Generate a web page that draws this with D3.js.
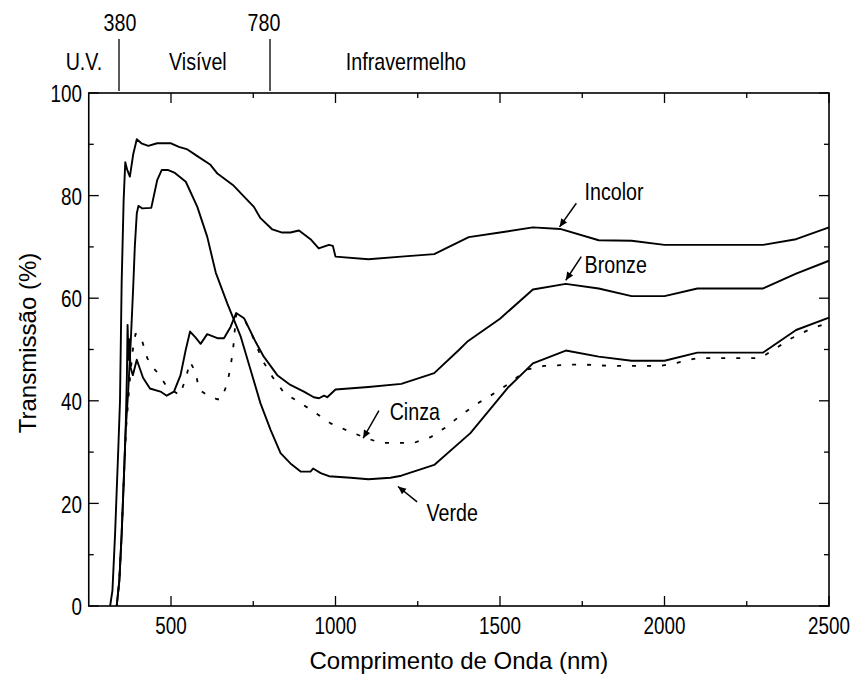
<!DOCTYPE html>
<html><head><meta charset="utf-8">
<script src="https://cdn.jsdelivr.net/npm/d3@7"></script>
<style>
html,body{margin:0;padding:0;background:#fff;}
svg{display:block;}
text{font-family:"Liberation Sans",Arial,sans-serif;fill:#000;}
</style></head>
<body>
<svg id="chart" width="855" height="680"></svg>
<script>
// ---- data (wavelength nm, transmission %) ----
const incolor = [[315,0],[322,3],[330,14],[340,31],[345,40],[350,63],[356,79],[361,86.5],[367,85],[375,83.7],[385,88],[396,91],[410,90.2],[431,89.7],[458,90.2],[500,90.2],[524,89.5],[550,89],[580,87.7],[620,86],[641,84.3],[691,81.9],[722,79.8],[752,77.8],[772,75.6],[808,73.4],[838,72.8],[863,72.8],[889,73.2],[924,71.5],[949,69.7],[980,70.4],[992,70.2],[1000,68.1],[1100,67.6],[1200,68.1],[1300,68.6],[1405,71.9],[1500,72.8],[1600,73.8],[1683,73.5],[1800,71.3],[1900,71.2],[2000,70.4],[2100,70.4],[2300,70.4],[2400,71.5],[2500,73.8]];
const verde = [[335,0],[343,5],[350,14],[358,27],[362,34],[370,42],[378,52],[385,62],[390,70],[396,76.5],[401,78],[413,77.5],[440,77.6],[458,83],[472,85],[490,85],[510,84.5],[545,82.7],[580,77.8],[610,72],[636,65],[671,59],[712,52.5],[742,46],[772,39.5],[803,34.3],[833,29.8],[863,27.8],[894,26.2],[924,26.2],[932,26.8],[955,25.9],[980,25.3],[1046,25],[1100,24.7],[1167,25],[1200,25.4],[1300,27.5],[1410,33.7],[1526,42.7],[1600,47.3],[1700,49.8],[1800,48.6],[1900,47.8],[2000,47.8],[2100,49.4],[2300,49.4],[2400,53.8],[2500,56.2]];
const bronze = [[335,0],[343,5],[350,14],[358,27],[362,34],[366,45],[368,54.8],[371,48],[373,52],[377,46.5],[384,45],[396,48],[415,44.5],[436,42.4],[468,41.8],[487,41],[509,41.8],[529,45],[545,50],[558,53.5],[575,52.3],[590,51.1],[610,53],[641,52.2],[661,52.2],[681,54.4],[698,57.1],[722,56.1],[757,51.5],[782,48.6],[823,45],[863,43.1],[904,41.8],[934,40.7],[950,40.5],[965,41],[975,40.7],[1000,42.2],[1100,42.7],[1200,43.3],[1300,45.4],[1375,49.9],[1400,51.5],[1500,56],[1600,61.7],[1700,62.8],[1800,61.9],[1900,60.4],[2000,60.4],[2100,61.9],[2300,61.9],[2400,64.8],[2500,67.3]];
const cinza = [[335,0],[343,5],[350,14],[358,27],[364,35],[370,40],[376,45],[384,50],[392,53],[398,53.2],[413,51.5],[428,48.3],[445,46.5],[459,45.5],[487,42.8],[510,41.8],[527,41.1],[545,44.4],[558,47.6],[575,45.5],[585,42.2],[610,41.1],[640,40.3],[653,40.3],[671,43.4],[681,46.6],[689,50.2],[698,56.8],[722,56],[745,53],[757,51.2],[777,48],[808,44.7],[843,41.6],[892,39.6],[934,37.9],[985,35.6],[1036,34.2],[1086,32.9],[1137,31.8],[1238,31.8],[1289,32.9],[1339,35],[1385,37.4],[1435,39.6],[1491,41.8],[1541,44],[1582,46.1],[1633,46.8],[1744,47.1],[1835,46.8],[1987,46.8],[2038,47.4],[2098,48.3],[2291,48.3],[2386,52.2],[2437,53.8],[2500,55.3]];

const xMajor = [500,1000,1500,2000,2500];
const xMinor = [750,1250,1750,2250];
const yMajor = [0,20,40,60,80,100];
const yMinor = [10,30,50,70,90];

const regionBounds = [380,780];
const regionNames = ["U.V.","Visível","Infravermelho"];
const regionNamePos = [287,589,1140];

// annotations: label, label position [nm,%], arrow from [nm,%], arrow to [nm,%]
const annLabels = ["Incolor","Bronze","Cinza","Verde"];
const annLabelPos = [[1757,80.7],[1757,66.5],[1241,37.9],[1355,18.1]];
const annArrowFrom = [[1732,78.5],[1747,68.1],[1132,38.1],[1248,20.3]];
const annArrowTo = [[1681,73.9],[1700,63.5],[1084,32.7],[1190,23.3]];
const annAnchor = ["start","start","middle","middle"];

// ---- layout ----
const L = 88.75, R = 829, T = 93, B = 606;
const svg = d3.select("#chart");
const x = d3.scaleLinear().domain([250,2500]).range([L,R]);
const y = d3.scaleLinear().domain([0,100]).range([B,T]);
const topScale = d3.scaleLinear().domain(regionBounds).range([119,270]);

const NARROW = 0.82;
function ntext(g, px, py, str, anchor, size){
  return g.append("text")
    .attr("transform", `translate(${px},${py}) scale(${NARROW},1)`)
    .attr("text-anchor", anchor)
    .attr("dominant-baseline","central")
    .style("font-size", size+"px")
    .text(str);
}

// frame
svg.append("rect").attr("x",L).attr("y",T).attr("width",R-L).attr("height",B-T)
  .attr("fill","none").attr("stroke","#000").attr("stroke-width",1.6);

const ticks = svg.append("g").attr("stroke","#000").attr("stroke-width",1.3);
function xt(vals,len){
  vals.forEach(v=>{
    ticks.append("line").attr("x1",x(v)).attr("x2",x(v)).attr("y1",B).attr("y2",B-len);
    ticks.append("line").attr("x1",x(v)).attr("x2",x(v)).attr("y1",T).attr("y2",T+len);
  });
}
function yt(vals,len){
  vals.forEach(v=>{
    ticks.append("line").attr("y1",y(v)).attr("y2",y(v)).attr("x1",L).attr("x2",L+len);
    ticks.append("line").attr("y1",y(v)).attr("y2",y(v)).attr("x1",R).attr("x2",R-len);
  });
}
xt(xMajor,10); xt(xMinor,5); yt(yMajor,10); yt(yMinor,5);

const labels = svg.append("g");
xMajor.forEach(v=> ntext(labels, x(v), 626, String(v), "middle", 23));
yMajor.forEach(v=> ntext(labels, 82, y(v)+1, String(v), "end", 23));

// axis titles
svg.append("text").attr("x",(L+R)/2).attr("y",660).attr("text-anchor","middle")
  .attr("dominant-baseline","central").style("font-size","24px").text("Comprimento de Onda (nm)");
svg.append("text").attr("transform","translate(27,343) rotate(-90)").attr("text-anchor","middle")
  .attr("dominant-baseline","central").style("font-size","24px").text("Transmissão (%)");

// region markers on top
regionBounds.forEach((v,i)=>{
  svg.append("line").attr("x1",topScale(v)).attr("x2",topScale(v))
    .attr("y1",39).attr("y2",91).attr("stroke","#000").attr("stroke-width",1.3);
  ntext(labels, topScale(v) + (i===0?1:-6), 23, String(v), "middle", 24);
});
regionNames.forEach((n,i)=> ntext(labels, topScale(regionNamePos[i]), 62, n, "middle", 24));

// curves
const line = d3.line().x(d=>x(d[0])).y(d=>y(d[1]));
const curves = svg.append("g").attr("fill","none").attr("stroke","#000").attr("stroke-linejoin","round");
curves.append("path").datum(incolor).attr("d",line).attr("stroke-width",1.9);
curves.append("path").datum(verde).attr("d",line).attr("stroke-width",1.9);
curves.append("path").datum(bronze).attr("d",line).attr("stroke-width",1.9);
curves.append("path").datum(cinza).attr("d",line).attr("stroke-width",1.8).attr("stroke-dasharray","4,11");

// annotations
const defs = svg.append("defs");
defs.append("marker").attr("id","ah").attr("viewBox","0 0 10 10").attr("refX",10).attr("refY",5)
  .attr("markerWidth",9).attr("markerHeight",8).attr("markerUnits","userSpaceOnUse").attr("orient","auto")
  .append("path").attr("d","M0,0.5 L10,5 L0,9.5 Z").attr("fill","#000");
annLabels.forEach((lab,i)=>{
  svg.append("line")
    .attr("x1",x(annArrowFrom[i][0])).attr("y1",y(annArrowFrom[i][1]))
    .attr("x2",x(annArrowTo[i][0])).attr("y2",y(annArrowTo[i][1]))
    .attr("stroke","#000").attr("stroke-width",1.5).attr("marker-end","url(#ah)");
  ntext(labels, x(annLabelPos[i][0]), y(annLabelPos[i][1]), lab, annAnchor[i], 24);
});
</script>
</body></html>
